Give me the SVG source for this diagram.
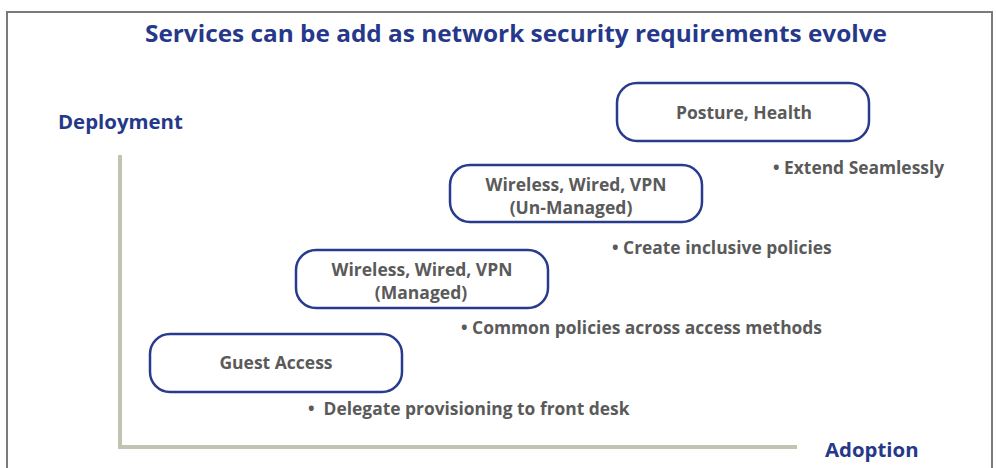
<svg xmlns="http://www.w3.org/2000/svg" width="996" height="468" viewBox="0 0 996 468">
  <style>
    .box { fill: #ffffff; stroke: #283b8c; stroke-width: 2.5; }
    .lbl { font-family: "Open Sans", "Liberation Sans", sans-serif; font-weight: bold; font-size: 17.5px; fill: #5a5a5a; text-anchor: middle; }
    .note { font-family: "Open Sans", "Liberation Sans", sans-serif; font-weight: bold; font-size: 17.4px; fill: #5a5a5a; }
    .axis-lbl { font-family: "Open Sans", "Liberation Sans", sans-serif; font-weight: bold; font-size: 20.4px; fill: #26388a; }
    .axis { stroke: #c2c4b2; stroke-width: 4; fill: none; }
  </style>
  <rect width="996" height="468" fill="#ffffff"/>
  <!-- outer frame -->
  <path d="M7 468 V12 H992 V468" fill="none" stroke="#7a7a7a" stroke-width="2"/>
  <text x="516" y="42" text-anchor="middle" font-family="Open Sans, Liberation Sans, sans-serif" font-weight="bold" font-size="24" fill="#26388a" textLength="742" lengthAdjust="spacingAndGlyphs">Services can be add as network security requirements evolve</text>

  <!-- axes -->
  <g id="axes">
    <path class="axis" d="M120 155 V447 H797"/>
    <text class="axis-lbl" x="58" y="129">Deployment</text>
    <text class="axis-lbl" x="825" y="457">Adoption</text>
  </g>

  <g id="posture">
    <rect class="box" x="617" y="83" width="252" height="58" rx="20"/>
    <text class="lbl" x="744" y="119">Posture, Health</text>
  </g>
  <g id="unmanaged">
    <rect class="box" x="450" y="165" width="252" height="57" rx="20"/>
    <text class="lbl" x="576" y="191">Wireless, Wired, VPN</text>
    <text class="lbl" x="571" y="214">(Un-Managed)</text>
  </g>
  <g id="managed">
    <rect class="box" x="296" y="250" width="252" height="58" rx="20"/>
    <text class="lbl" x="422" y="276">Wireless, Wired, VPN</text>
    <text class="lbl" x="421" y="299">(Managed)</text>
  </g>
  <g id="guest">
    <rect class="box" x="150" y="334" width="252" height="58" rx="20"/>
    <text class="lbl" x="276" y="369">Guest Access</text>
  </g>

  <g id="notes">
    <text class="note" x="773" y="174">• Extend Seamlessly</text>
    <text class="note" x="612" y="254">• Create inclusive policies</text>
    <text class="note" x="461" y="334">• Common policies across access methods</text>
    <text class="note" x="308" y="415" xml:space="preserve">•  Delegate provisioning to front desk</text>
  </g>
</svg>
